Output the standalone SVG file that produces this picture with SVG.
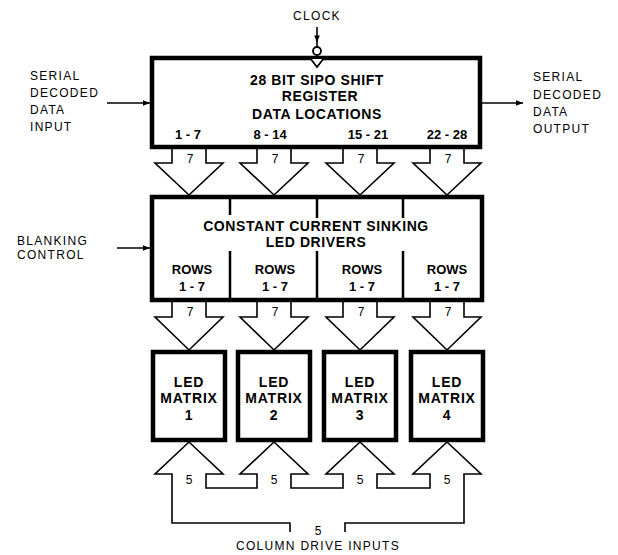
<svg xmlns="http://www.w3.org/2000/svg" width="618" height="555" viewBox="0 0 618 555">
<defs>
<marker id="ah" viewBox="0 0 10 10" refX="10" refY="5" markerWidth="9" markerHeight="7" markerUnits="userSpaceOnUse" orient="auto"><path d="M0,1 L10,5 L0,9 Z" fill="#000"/></marker>
<marker id="ahm" viewBox="0 0 10 10" refX="5" refY="5" markerWidth="10" markerHeight="7" markerUnits="userSpaceOnUse" orient="auto"><path d="M0,1 L10,5 L0,9 Z" fill="#000"/></marker>
</defs>
<style>
.box{fill:#fff;stroke:#000;stroke-width:4.5}
.ln{fill:none;stroke:#000;stroke-width:1.6}
.div{stroke:#000;stroke-width:2.5}
.lbl{font-family:"Liberation Sans",Arial,sans-serif;font-size:12px;letter-spacing:1.3px;fill:#000}
.b{font-family:"Liberation Sans",Arial,sans-serif;font-size:13px;font-weight:bold;fill:#000;text-anchor:middle}
.h{font-size:14px;letter-spacing:0.6px}
.m{font-size:14px;letter-spacing:0.8px}
.n{font-family:"Liberation Sans",Arial,sans-serif;font-size:12px;fill:#000;text-anchor:middle}
</style>
<rect width="618" height="555" fill="#fff"/>

<g id="connectors">
<path class="ln" d="M107,103 H150" marker-end="url(#ah)"/>
<path class="ln" d="M482,103 H523" marker-end="url(#ah)"/>
<path class="ln" d="M117,248 H150" marker-end="url(#ah)"/>
<path class="ln" d="M317,27 V39 V47" marker-mid="url(#ahm)"/>
<circle cx="317" cy="51" r="4" fill="#fff" stroke="#000" stroke-width="1.8"/>
<g id="bus-top">
<path class="ln" d="M172,149 V163 H155 L189,195 L223,163 H206 V149"/>
<path class="ln" d="M257,149 V163 H240 L274,195 L308,163 H291 V149"/>
<path class="ln" d="M343,149 V163 H326 L360,195 L394,163 H377 V149"/>
<path class="ln" d="M430,149 V163 H413 L447,195 L481,163 H464 V149"/>
<text class="n" x="190" y="163">7</text>
<text class="n" x="275" y="163">7</text>
<text class="n" x="361" y="163">7</text>
<text class="n" x="448" y="163">7</text>
</g>
<g id="bus-mid">
<path class="ln" d="M172,302 V317 H155 L189,350 L223,317 H206 V302"/>
<path class="ln" d="M257,302 V317 H240 L274,350 L308,317 H291 V302"/>
<path class="ln" d="M343,302 V317 H326 L360,350 L394,317 H377 V302"/>
<path class="ln" d="M430,302 V317 H413 L447,350 L481,317 H464 V302"/>
<text class="n" x="190" y="316">7</text>
<text class="n" x="275" y="316">7</text>
<text class="n" x="361" y="316">7</text>
<text class="n" x="448" y="316">7</text>
</g>
<g id="bus-bottom">
<path class="ln" d="M290,532 V523 H172 V474 H155 L189,442 L223,474 H206 V488 H257 V474 H240 L274,442 L308,474 H291 V488 H343 V474 H326 L360,442 L394,474 H377 V488 H430 V474 H413 L447,442 L481,474 H464 V523 H345 V532"/>
<text class="n" x="189" y="484">5</text>
<text class="n" x="274" y="484">5</text>
<text class="n" x="360" y="484">5</text>
<text class="n" x="447" y="484">5</text>
<text class="n" x="318" y="535">5</text>
</g>
</g>

<g id="clock">
<text class="lbl" x="317" y="20" text-anchor="middle">CLOCK</text>
</g>

<g id="input-label">
<text class="lbl" x="30" y="80">SERIAL</text>
<text class="lbl" x="30" y="97">DECODED</text>
<text class="lbl" x="30" y="114">DATA</text>
<text class="lbl" x="30" y="131">INPUT</text>
</g>

<g id="output-label">
<text class="lbl" x="533" y="81">SERIAL</text>
<text class="lbl" x="533" y="99">DECODED</text>
<text class="lbl" x="533" y="116">DATA</text>
<text class="lbl" x="533" y="133">OUTPUT</text>
</g>

<g id="blanking-label">
<text class="lbl" x="17" y="245">BLANKING</text>
<text class="lbl" x="17" y="259">CONTROL</text>
</g>

<g id="shift-register">
<rect class="box" x="152" y="58" width="328" height="89"/>
<path d="M310,58 H324 L317,67 Z" fill="#fff" stroke="#000" stroke-width="1.8"/>
<text class="b h" x="317" y="85">28 BIT SIPO SHIFT</text>
<text class="b h" x="320" y="101">REGISTER</text>
<text class="b h" x="317" y="119">DATA LOCATIONS</text>
<text class="b" x="188" y="139">1 - 7</text>
<text class="b" x="270" y="139">8 - 14</text>
<text class="b" x="368" y="139">15 - 21</text>
<text class="b" x="447" y="139">22 - 28</text>
</g>

<g id="led-drivers">
<rect class="box" x="152" y="197" width="330" height="103"/>
<line class="div" x1="230" y1="199" x2="230" y2="215"/>
<line class="div" x1="230" y1="251" x2="230" y2="298"/>
<line class="div" x1="317" y1="199" x2="317" y2="218"/>
<line class="div" x1="317" y1="251" x2="317" y2="298"/>
<line class="div" x1="403" y1="199" x2="403" y2="218"/>
<line class="div" x1="403" y1="251" x2="403" y2="298"/>
<text class="b h" x="316" y="231">CONSTANT CURRENT SINKING</text>
<text class="b h" x="316" y="247">LED DRIVERS</text>
<text class="b" x="192" y="274">ROWS</text>
<text class="b" x="192" y="291">1 - 7</text>
<text class="b" x="275" y="274">ROWS</text>
<text class="b" x="275" y="291">1 - 7</text>
<text class="b" x="362" y="274">ROWS</text>
<text class="b" x="362" y="291">1 - 7</text>
<text class="b" x="447" y="274">ROWS</text>
<text class="b" x="447" y="291">1 - 7</text>
</g>

<g id="led-matrix-1">
<rect class="box" x="153" y="352" width="72" height="88"/>
<text class="b m" x="189" y="387">LED</text>
<text class="b m" x="189" y="403">MATRIX</text>
<text class="b m" x="189" y="420">1</text>
</g>
<g id="led-matrix-2">
<rect class="box" x="238" y="352" width="72" height="88"/>
<text class="b m" x="274" y="387">LED</text>
<text class="b m" x="274" y="403">MATRIX</text>
<text class="b m" x="274" y="420">2</text>
</g>
<g id="led-matrix-3">
<rect class="box" x="324" y="352" width="72" height="88"/>
<text class="b m" x="360" y="387">LED</text>
<text class="b m" x="360" y="403">MATRIX</text>
<text class="b m" x="360" y="420">3</text>
</g>
<g id="led-matrix-4">
<rect class="box" x="411" y="352" width="72" height="88"/>
<text class="b m" x="447" y="387">LED</text>
<text class="b m" x="447" y="403">MATRIX</text>
<text class="b m" x="447" y="420">4</text>
</g>

<g id="column-label">
<text class="lbl" x="318" y="550" text-anchor="middle">COLUMN DRIVE INPUTS</text>
</g>
</svg>
